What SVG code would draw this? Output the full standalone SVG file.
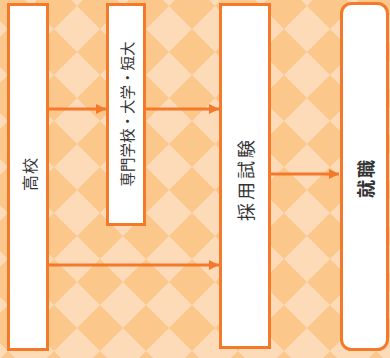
<svg xmlns="http://www.w3.org/2000/svg" width="390" height="358" viewBox="0 0 390 358">
  <style>
    .box { fill: #ffffff; stroke: #f5792a; stroke-width: 3; }
    .conn { stroke: #f5792a; stroke-width: 3; fill: none; marker-end: url(#arrow); }
    .lbl { font-family: "Noto Sans CJK JP", "Noto Sans", sans-serif; fill: #333333; text-anchor: middle; dominant-baseline: central; }
  </style>
  <defs>
    <pattern id="checker" patternUnits="userSpaceOnUse" x="8" y="6" width="46" height="46">
      <rect width="46" height="46" fill="#fbc78b"/>
      <polygon points="23,0 46,23 23,46 0,23" fill="#fddbb9"/>
    </pattern>
    <marker id="arrow" markerUnits="userSpaceOnUse" markerWidth="10" markerHeight="10" refX="10" refY="5" orient="auto">
      <path d="M0,0 L10,5 L0,10 Z" fill="#f5792a"/>
    </marker>
  </defs>
  <rect width="390" height="358" fill="url(#checker)"/>
  <g id="connectors">
    <line class="conn" x1="49" y1="109" x2="106" y2="109"/>
    <line class="conn" x1="146" y1="109" x2="219" y2="109"/>
    <line class="conn" x1="49" y1="265" x2="219" y2="265"/>
    <line class="conn" x1="271" y1="174" x2="339" y2="174"/>
  </g>
  <g id="koukou">
    <rect class="box" x="8.5" y="4.5" width="39" height="345"/>
    <text class="lbl" font-size="16" letter-spacing="1" transform="translate(28.5,174) rotate(-90)">高校</text>
  </g>
  <g id="senmon">
    <rect class="box" x="107.5" y="4.5" width="37" height="220"/>
    <text class="lbl" font-size="14.5" transform="translate(126.5,114) rotate(-90)">専門学校・大学・短大</text>
  </g>
  <g id="saiyou">
    <rect class="box" x="220.5" y="4.5" width="49" height="343"/>
    <text class="lbl" font-size="18" letter-spacing="3" transform="translate(245,179) rotate(-90)">採用試験</text>
  </g>
  <g id="shuushoku">
    <rect class="box" x="341.5" y="3.5" width="46" height="346" rx="10"/>
    <text class="lbl" font-size="18" font-weight="bold" letter-spacing="2" transform="translate(365,178) rotate(-90)">就職</text>
  </g>
</svg>
